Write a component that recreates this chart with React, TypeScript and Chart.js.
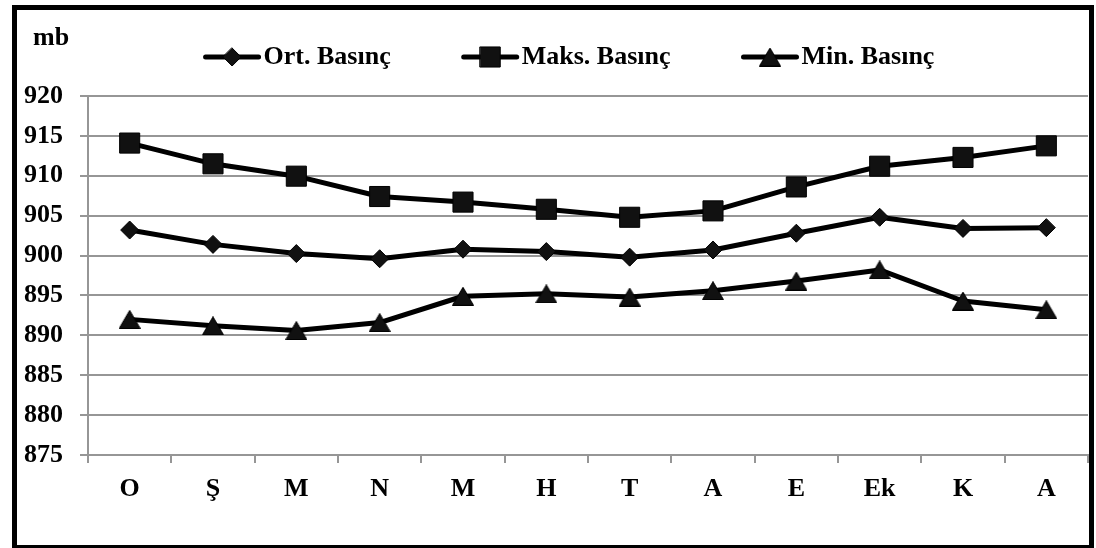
import React, { useEffect, useRef } from "react";
import { Chart, registerables } from "chart.js";

Chart.register(...registerables);

const months = ["O", "Ş", "M", "N", "M", "H", "T", "A", "E", "Ek", "K", "A"];
const seriesNames = ["Ort. Basınç", "Maks. Basınç", "Min. Basınç"];
const ortValues = [903.2, 901.4, 900.25, 899.6, 900.8, 900.5, 899.8, 900.7, 902.8, 904.8, 903.4, 903.5];
const maksValues = [914.1, 911.5, 909.95, 907.4, 906.7, 905.8, 904.8, 905.6, 908.6, 911.2, 912.3, 913.75];
const minValues = [892.0, 891.2, 890.6, 891.6, 894.9, 895.2, 894.8, 895.6, 896.8, 898.2, 894.3, 893.2];
const yMin = 875;
const yMax = 920;
const yStep = 5;
const unitLabel = "mb";

const FONT = '"Liberation Serif", "Times New Roman", serif';
const GRID = "#969696";

function makeTriangle(): HTMLCanvasElement {
  const c = document.createElement("canvas");
  c.width = 22;
  c.height = 19;
  const g = c.getContext("2d")!;
  g.beginPath();
  g.moveTo(11, 0.5);
  g.lineTo(21.5, 18.5);
  g.lineTo(0.5, 18.5);
  g.closePath();
  g.fillStyle = "#111";
  g.fill();
  g.strokeStyle = "#000";
  g.lineWidth = 1;
  g.stroke();
  return c;
}

function drawMarker(ctx: CanvasRenderingContext2D, style: any, x: number, y: number) {
  ctx.save();
  ctx.fillStyle = "#111";
  ctx.strokeStyle = "#000";
  ctx.lineWidth = 1;
  if (style === "rectRot") {
    const r = 9;
    ctx.beginPath();
    ctx.moveTo(x, y - r);
    ctx.lineTo(x + r, y);
    ctx.lineTo(x, y + r);
    ctx.lineTo(x - r, y);
    ctx.closePath();
    ctx.fill();
    ctx.stroke();
  } else if (style === "rect") {
    const s = 14.2 * Math.SQRT1_2;
    ctx.beginPath();
    ctx.rect(x - s, y - s, 2 * s, 2 * s);
    ctx.fill();
    ctx.stroke();
  } else if (style && style.width) {
    ctx.drawImage(style, x - style.width / 2, y - style.height / 2);
  }
  ctx.restore();
}

const legendPlugin = {
  id: "lineLegend",
  afterDraw(chart: any) {
    const ctx: CanvasRenderingContext2D = chart.ctx;
    ctx.save();
    ctx.font = `bold 26px ${FONT}`;
    const lineW = 57;
    const gapText = 3;
    const gapItem = 71;
    const items = chart.data.datasets.map((ds: any) => ({ ds, w: ctx.measureText(ds.label).width }));
    const total =
      items.reduce((s: number, i: any) => s + lineW + gapText + i.w, 0) + gapItem * (items.length - 1);
    const cx = (chart.chartArea.left + chart.chartArea.right) / 2 - 19;
    let x = cx - total / 2;
    const y = 57;
    for (const it of items) {
      ctx.strokeStyle = "#000";
      ctx.lineWidth = 5;
      ctx.lineCap = "round";
      ctx.beginPath();
      ctx.moveTo(x + 2, y);
      ctx.lineTo(x + lineW - 2, y);
      ctx.stroke();
      drawMarker(ctx, it.ds.pointStyle, x + lineW / 2, y);
      ctx.fillStyle = "#000";
      ctx.textAlign = "left";
      ctx.textBaseline = "middle";
      ctx.fillText(it.ds.label, x + lineW + gapText, y);
      x += lineW + gapText + it.w + gapItem;
    }
    ctx.textAlign = "left";
    ctx.textBaseline = "alphabetic";
    ctx.fillText(unitLabel, 33, 45);
    ctx.restore();
  },
};

export default function App() {
  const ref = useRef<HTMLCanvasElement>(null);
  useEffect(() => {
    document.body.style.margin = "0";
    const tri = makeTriangle();
    const common = {
      borderColor: "#000",
      borderWidth: 5,
      borderCapStyle: "round" as const,
      borderJoinStyle: "round" as const,
      pointBackgroundColor: "#111",
      pointBorderColor: "#000",
      pointBorderWidth: 1,
      fill: false,
      tension: 0,
      clip: false as const,
    };
    const chart = new Chart(ref.current!, {
      type: "line",
      data: {
        labels: months,
        datasets: [
          { ...common, label: seriesNames[0], data: ortValues, pointStyle: "rectRot", pointRadius: 9 },
          { ...common, label: seriesNames[1], data: maksValues, pointStyle: "rect", pointRadius: 14.2 },
          { ...common, label: seriesNames[2], data: minValues, pointStyle: tri as any, pointRadius: 11 },
        ],
      },
      options: {
        responsive: false,
        maintainAspectRatio: false,
        animation: false,
        layout: { autoPadding: false, padding: { left: 24, top: 96, right: 8, bottom: 0 } },
        plugins: { legend: { display: false }, tooltip: { enabled: false } },
        scales: {
          x: {
            offset: true,
            grid: {
              offset: true,
              drawOnChartArea: false,
              drawTicks: true,
              tickLength: 8,
              color: GRID,
              lineWidth: 2,
            },
            border: { display: true, color: GRID, width: 2 },
            ticks: {
              autoSkip: false,
              maxRotation: 0,
              padding: 11,
              color: "#000",
              font: { family: FONT, size: 26, weight: "bold" },
            },
            afterFit: (s: any) => {
              s.height = 93;
              s.paddingLeft = 0;
              s.paddingRight = 0;
            },
          },
          y: {
            min: yMin,
            max: yMax,
            ticks: {
              stepSize: yStep,
              padding: 17,
              color: "#000",
              font: { family: FONT, size: 26, weight: "bold" },
            },
            grid: { color: GRID, lineWidth: 2, tickLength: 8, drawTicks: true },
            border: { display: true, color: GRID, width: 2 },
            afterFit: (s: any) => {
              s.width = 64;
            },
          },
        },
      },
      plugins: [legendPlugin],
    });
    return () => chart.destroy();
  }, []);
  return (
    <div style={{ position: "relative", width: 1096, height: 548, background: "#fff", overflow: "hidden" }}>
      <canvas
        ref={ref}
        width={1096}
        height={548}
        style={{ position: "absolute", left: 0, top: 0, width: 1096, height: 548 }}
      />
      <div
        style={{
          position: "absolute",
          left: 12,
          top: 5,
          width: 1082,
          height: 545,
          border: "5px solid #000",
          boxSizing: "border-box",
          pointerEvents: "none",
        }}
      />
    </div>
  );
}
